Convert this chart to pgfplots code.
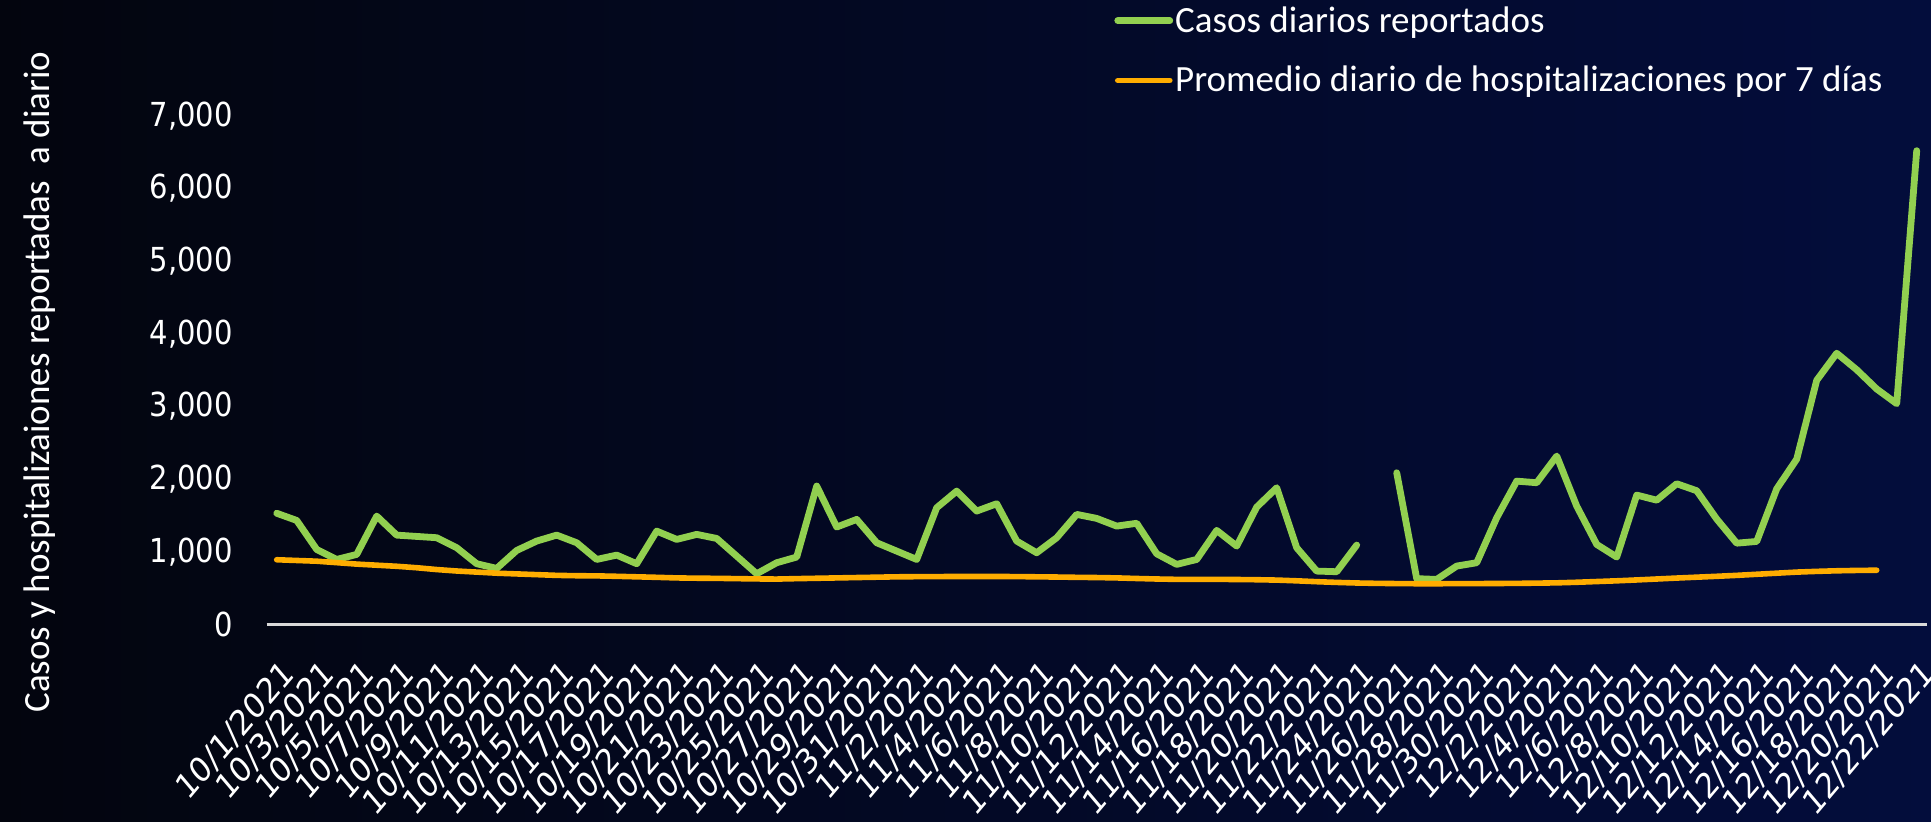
\documentclass[border=0pt]{standalone}
\usepackage{pgfplots}
\pgfplotsset{compat=1.18}
\usepackage{fontspec}
\setmainfont{Carlito}
\newfontfamily\dejavu{DejaVu Sans}
\definecolor{casegreen}{RGB}{146,208,80}
\definecolor{hosporange}{RGB}{255,173,0}
\definecolor{bgleft}{RGB}{3,5,14}
\definecolor{bgright}{RGB}{3,13,60}
\definecolor{axisgray}{RGB}{217,217,217}
\begin{document}
\begin{tikzpicture}
\useasboundingbox (0,0) rectangle (965.5pt,410.5pt);
\shade[left color=bgleft, right color=bgright] (0,0) rectangle (965.5pt,410.5pt);
\begin{axis}[
  at={(133.35pt,98.3pt)}, anchor=south west,
  scale only axis, width=830pt, height=254.3pt,
  xmin=-0.5, xmax=82.5, ymin=0, ymax=7000,
  axis x line*=bottom, axis y line*=left,
  y axis line style={draw=none},
  x axis line style={draw=axisgray, line width=1.2pt},
  major tick length=0pt, tick style={draw=none},
  ytick={0,1000,...,7000},
  scaled y ticks=false,
  /pgf/number format/assume math mode=true,
  /pgf/number format/1000 sep={,},
  yticklabel style={font=\dejavu\fontsize{14.5}{17}\selectfont, text=white, xshift=-13.5pt, cm={1,0,0,1.14,(0pt,0pt)}, anchor=east},
  xtick={0,2,...,82},
  xticklabels={10/1/2021,10/3/2021,10/5/2021,10/7/2021,10/9/2021,10/11/2021,10/13/2021,10/15/2021,10/17/2021,10/19/2021,10/21/2021,10/23/2021,10/25/2021,10/27/2021,10/29/2021,10/31/2021,11/2/2021,11/4/2021,11/6/2021,11/8/2021,11/10/2021,11/12/2021,11/14/2021,11/16/2021,11/18/2021,11/20/2021,11/22/2021,11/24/2021,11/26/2021,11/28/2021,11/30/2021,12/2/2021,12/4/2021,12/6/2021,12/8/2021,12/10/2021,12/12/2021,12/14/2021,12/16/2021,12/18/2021,12/20/2021,12/22/2021},
  xticklabel style={font=\dejavu\fontsize{14.75}{17}\selectfont, text=white, xshift=6.9pt, yshift=-20.6pt, cm={0.7071,0.8344,-0.7071,0.8344,(0pt,0pt)}, anchor=east, inner sep=1pt},
  unbounded coords=jump,
  legend style={at={(0.5104,1.2198)}, anchor=north west, draw=none, fill=none, text=white,
    font=\fontsize{18.5}{22}\selectfont, row sep=13.5pt, inner sep=0pt, nodes={inner sep=1pt}},
  legend cell align=left,
  legend image code/.code={\draw[#1, line cap=round] (0pt,0pt) -- (26pt,0pt);},
]
\addplot[casegreen, line width=3.4pt, line join=round, line cap=round] table {
x y
0 1530
1 1431
2 1032
3 894
4 963
5 1491
6 1229
7 1211
8 1193
9 1055
10 835
11 771
12 1018
13 1147
14 1229
15 1124
16 894
17 954
18 835
19 1284
20 1170
21 1239
22 1183
23 940
24 697
25 849
26 927
27 1904
28 1340
29 1445
30 1124
31 1009
32 894
33 1606
34 1835
35 1560
36 1661
37 1147
38 986
39 1193
40 1514
41 1459
42 1353
43 1392
44 972
45 826
46 894
47 1294
48 1078
49 1615
50 1881
51 1055
52 734
53 725
54 1092
55 nan
56 2087
57 630
58 619
59 803
60 849
61 1468
62 1972
63 1950
64 2317
65 1628
66 1101
67 927
68 1780
69 1710
70 1936
71 1840
72 1450
73 1118
74 1142
75 1866
76 2275
77 3360
78 3732
79 3505
80 3240
81 3038
82 6520
};
\addlegendentry{Casos diarios reportados}
\addplot[hosporange, line width=2.8pt, line join=round, line cap=round] table {
x y
0 890
1 880
2 870
3 850
4 830
5 815
6 800
7 780
8 755
9 735
10 720
11 705
12 695
13 685
14 675
15 670
16 668
17 662
18 655
19 648
20 640
21 636
22 634
23 630
24 626
25 624
26 630
27 635
28 640
29 645
30 650
31 655
32 657
33 658
34 660
35 660
36 660
37 658
38 655
39 652
40 648
41 645
42 640
43 632
44 625
45 620
46 620
47 620
48 618
49 615
50 610
51 600
52 588
53 578
54 570
55 565
56 562
57 560
58 560
59 561
60 562
61 563
62 565
63 568
64 572
65 580
66 590
67 600
68 612
69 625
70 638
71 650
72 662
73 675
74 690
75 705
76 720
77 730
78 738
79 743
80 746
};
\addlegendentry{Promedio diario de hospitalizaciones por 7 días}
\end{axis}
\node[rotate=90, text=white, font=\fontsize{18.5}{22}\selectfont] at (20pt,219.5pt) {Casos y hospitalizaiones reportadas\ \ a diario};
\end{tikzpicture}
\end{document}
